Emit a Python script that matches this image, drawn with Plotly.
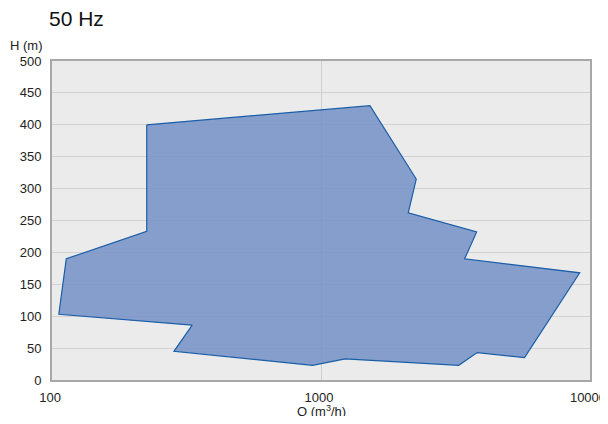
import plotly.graph_objects as go

# Operating envelope (Q in m3/h, H in m)
flow_q = [225, 1520, 2260, 2110, 3790, 3420, 9160, 5710, 3810, 3250, 1230, 930, 284, 332, 106, 113, 225, 225]
head_h = [400, 430, 315, 262, 232, 190, 168, 35, 43, 23, 33, 23, 45, 86, 103, 190, 233, 400]

x_ticks = [100, 1000, 10000]
x_tick_labels = ["100", "1000", "10000"]
y_ticks = [0, 50, 100, 150, 200, 250, 300, 350, 400, 450, 500]

fig = go.Figure()
fig.add_trace(go.Scatter(
    x=flow_q, y=head_h, mode="lines", fill="toself",
    fillcolor="rgba(115,145,198,0.85)",
    line=dict(color="#1a5ea8", width=1.2),
    hoverinfo="skip", showlegend=False,
))

# page body has an 8px default margin, so the figure is sized to fit the window
font_family = "Liberation Sans, Arial, sans-serif"
fig.update_layout(
    width=600, height=408,
    margin=dict(l=44, r=18, t=53, b=36, autoexpand=False),
    paper_bgcolor="white", plot_bgcolor="#ebebeb",
    font=dict(family=font_family, size=13, color="#222"),
    xaxis=dict(
        type="log", range=[1.99995, 4.00005], tickvals=x_ticks, ticktext=x_tick_labels,
        showgrid=True, gridcolor="#cfcfcf", gridwidth=1,
        showline=True, linecolor="#a8a8a8", linewidth=2, mirror=True,
        ticks="", zeroline=False, automargin=False, ticklabelstandoff=4,
        ticklabelshift=-2, ticklabeloverflow="allow",
    ),
    yaxis=dict(
        range=[0, 500], tickvals=y_ticks,
        showgrid=True, gridcolor="#d3d3d3", gridwidth=1,
        showline=True, linecolor="#a8a8a8", linewidth=2, mirror=True,
        ticks="", zeroline=False, automargin=False, ticklabelstandoff=6,
        ticklabeloverflow="allow",
    ),
    annotations=[
        dict(text="50 Hz", xref="paper", yref="paper", x=-0.009, y=1.0, yshift=43,
             xanchor="left", yanchor="middle", showarrow=False,
             font=dict(size=21, color="#111", family=font_family)),
        dict(text="H (m)", xref="paper", yref="paper", x=0, xshift=-7, y=1.0, yshift=16,
             xanchor="right", yanchor="middle", showarrow=False,
             font=dict(size=13, color="#222")),
        dict(text="Q (m<sup>3</sup>/h)", xref="paper", yref="paper", x=0.5, y=0, yshift=-31,
             xanchor="center", yanchor="middle", showarrow=False,
             font=dict(size=13, color="#222")),
    ],
)

fig.write_html("out.html")
